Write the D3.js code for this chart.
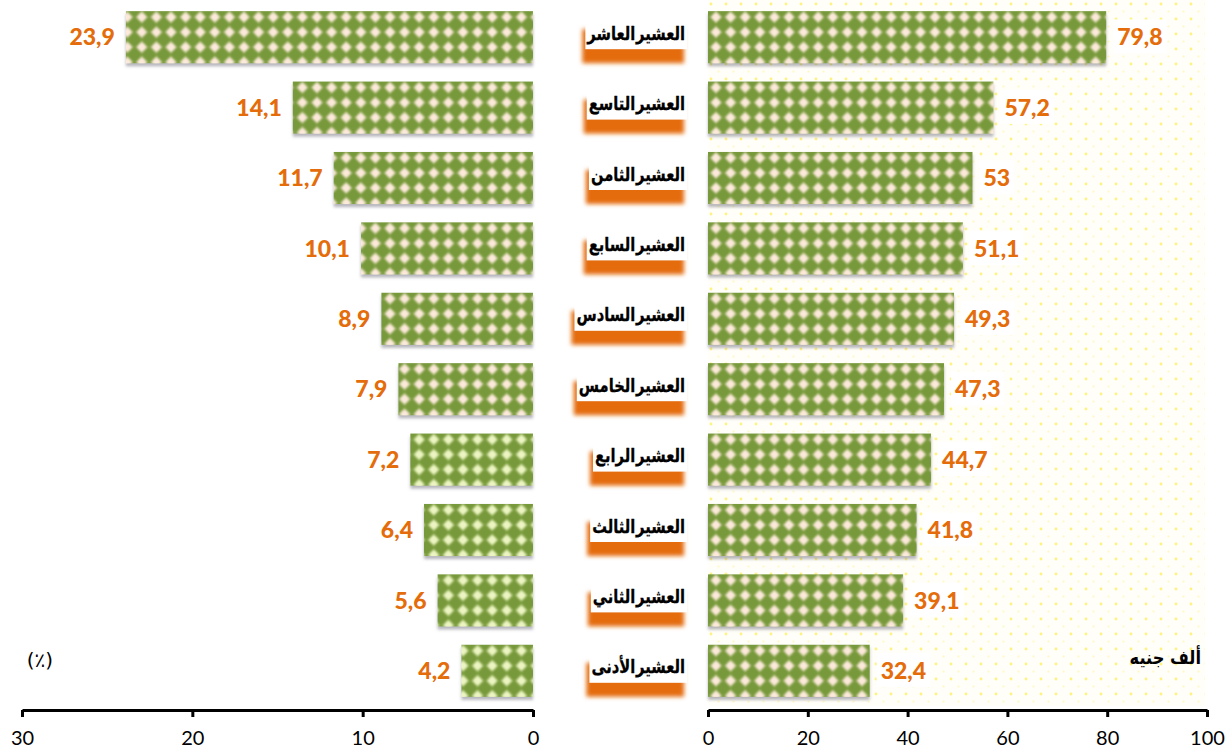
<!DOCTYPE html>
<html><head><meta charset="utf-8">
<script src="https://cdn.jsdelivr.net/npm/d3@7"></script>
<style>
html,body{margin:0;padding:0;background:#fff;}
svg{display:block;}
</style></head>
<body>
<script>
const categories = ["العشير العاشر","العشير التاسع","العشير الثامن","العشير السابع","العشير السادس","العشير الخامس","العشير الرابع","العشير الثالث","العشير الثاني","العشير الأدنى"];
const shareValues = [23.9,14.1,11.7,10.1,8.9,7.9,7.2,6.4,5.6,4.2];
const incomeValues = [79.8,57.2,53,51.1,49.3,47.3,44.7,41.8,39.1,32.4];
const leftTicks = [0,10,20,30];
const rightTicks = [0,20,40,60,80,100];
const leftUnit = "(٪)";
const rightUnit = "ألف جنيه";

const W = 1231, H = 751;
const svg = d3.select("body").append("svg").attr("width", W).attr("height", H);
const defs = svg.append("defs");

const green = "#77993a", cream = "#fce9da", orange = "#e46c0a";
const numFont = "Lato, 'Open Sans', sans-serif";
const arFont = "'DejaVu Sans Condensed', 'DejaVu Sans', sans-serif";

// filters
const sh = defs.append("filter").attr("id","barShadow").attr("x","-5%").attr("y","-20%").attr("width","110%").attr("height","150%");
sh.append("feDropShadow").attr("dx",0).attr("dy",3).attr("stdDeviation",1.6).attr("flood-color","#6a6a7a").attr("flood-opacity",0.5);
const bl = defs.append("filter").attr("id","soft").attr("x","-10%").attr("y","-40%").attr("width","120%").attr("height","180%");
bl.append("feGaussianBlur").attr("stdDeviation",2);
const dotBlur = defs.append("filter").attr("id","dotBlur").attr("x","-30%").attr("y","-30%").attr("width","160%").attr("height","160%");
dotBlur.append("feGaussianBlur").attr("stdDeviation",0.9);

// background dot pattern for the right panel
const bgp = defs.append("pattern").attr("id","bgDots").attr("patternUnits","userSpaceOnUse")
  .attr("width",15).attr("height",15).attr("x",708).attr("y",0);
bgp.append("rect").attr("width",15).attr("height",15).attr("fill","#fffef8");
bgp.append("circle").attr("cx",3).attr("cy",4).attr("r",1.4).attr("fill","#fff380");
bgp.append("circle").attr("cx",10.5).attr("cy",11.5).attr("r",1.1).attr("fill","#fff9c4");

function makeBarPattern(id, x0, y0, dotColor){
  const w = 14.6, h = 15;
  const p = defs.append("pattern").attr("id",id).attr("patternUnits","userSpaceOnUse")
    .attr("width",w).attr("height",h).attr("x",x0).attr("y",y0);
  p.append("rect").attr("width",w).attr("height",h).attr("fill",green);
  const g = p.append("g").attr("filter","url(#dotBlur)");
  const a = 6.4, b = 1.6;
  [[0,0],[w,0],[0,h],[w,h]].forEach(([cx,cy])=>{
    g.append("path").attr("d",`M${cx},${cy-a} Q${cx+b},${cy-b} ${cx+a},${cy} Q${cx+b},${cy+b} ${cx},${cy+a} Q${cx-b},${cy+b} ${cx-a},${cy} Q${cx-b},${cy-b} ${cx},${cy-a}Z`)
      .attr("fill",dotColor);
    g.append("circle").attr("cx",cx).attr("cy",cy).attr("r",4.2).attr("fill",dotColor);
  });
}

// scales
const y = d3.scaleBand().domain(categories).range([2, 706]).paddingInner(0.26).paddingOuter(0.13);
const xL = d3.scaleLinear().domain([0,30]).range([533, 22]);
const xR = d3.scaleLinear().domain([0,100]).range([708, 1207]);
const axisY = 710;

// right panel background
svg.append("rect").attr("x",xR(0)).attr("y",0).attr("width",xR(100)-xR(0)-2).attr("height",axisY-4)
  .attr("fill","url(#bgDots)");

const fmt = v => String(v).replace(".", ",");

// left bars
categories.forEach((c,i)=>{
  const v = shareValues[i];
  const x0 = xL(v), yy = y(c), h = y.bandwidth();
  makeBarPattern("pl"+i, xL(0)+3, yy+6, i>=6 ? "#ecf5c2" : cream);
  svg.append("rect").attr("x",x0).attr("y",yy).attr("width",xL(0)-x0).attr("height",h)
    .attr("fill","url(#pl"+i+")").attr("filter","url(#barShadow)");
  svg.append("text").attr("x",x0-11).attr("y",yy+h/2).attr("dy","0.36em")
    .attr("text-anchor","end").attr("font-family",numFont).attr("font-weight","900")
    .attr("font-size",23).attr("fill",orange).text(fmt(v));
});

// right bars
categories.forEach((c,i)=>{
  const v = incomeValues[i];
  const yy = y(c), h = y.bandwidth();
  makeBarPattern("pr"+i, xR(0)+8, yy+6, cream);
  svg.append("rect").attr("x",xR(0)).attr("y",yy).attr("width",xR(v)-xR(0)).attr("height",h)
    .attr("fill","url(#pr"+i+")").attr("filter","url(#barShadow)");
  const t = svg.append("text").attr("x",xR(v)+11).attr("y",yy+h/2).attr("dy","0.36em")
    .attr("text-anchor","start").attr("font-family",numFont).attr("font-weight","900")
    .attr("font-size",23).attr("fill",orange).text(fmt(v));
  const bb = t.node().getBBox();
  svg.insert("rect", function(){ return t.node(); })
    .attr("x",bb.x-4).attr("y",bb.y-3).attr("width",bb.width+8).attr("height",bb.height+6).attr("fill","#fff");
});

// category labels
const labelRight = 687;
const sx = 0.86;
categories.forEach((c,i)=>{
  const cy = y(c) + y.bandwidth()/2;
  const g = svg.append("g");
  const t = g.append("text")
    .attr("transform",`translate(${labelRight-2},${cy-4}) scale(${sx},1)`)
    .attr("dy","0.35em")
    .attr("text-anchor","end").attr("font-family",arFont).attr("font-weight","bold")
    .attr("font-size",19).attr("word-spacing",-5).attr("fill","#000")
    .attr("stroke","#000").attr("stroke-width",0.3).text(c);
  const w = t.node().getComputedTextLength()*sx;
  const left = labelRight - w - 4;
  g.insert("rect","text").attr("x",left-3).attr("y",cy-8).attr("width",labelRight-left).attr("height",34)
    .attr("fill",orange).attr("filter","url(#soft)");
  g.insert("rect","text").attr("x",left).attr("y",cy-22).attr("width",labelRight-left).attr("height",34)
    .attr("fill","#fff");
});

// axes
const axL = d3.axisBottom(xL).tickValues(leftTicks).tickSize(7).tickSizeOuter(0).tickFormat(d3.format("d"));
const axR = d3.axisBottom(xR).tickValues(rightTicks).tickSize(7).tickSizeOuter(0).tickFormat(d3.format("d"));
[axL, axR].forEach(ax=>{
  const g = svg.append("g").attr("transform",`translate(0,${axisY})`).call(ax);
  g.select(".domain").attr("stroke","#000").attr("stroke-width",3);
  g.selectAll(".tick line").attr("stroke","#000").attr("stroke-width",3);
  g.selectAll(".tick text").attr("font-family",numFont).attr("font-size",20).attr("fill","#000").attr("dy","1.25em");
});

// units
svg.append("text").attr("x",40).attr("y",667).attr("text-anchor","middle")
  .attr("font-family","'DejaVu Sans', sans-serif").attr("font-size",20).attr("fill","#000").text(leftUnit);
svg.append("text").attr("transform","translate(1201,664) scale(0.95,1)").attr("text-anchor","end")
  .attr("font-family",arFont).attr("font-weight","bold").attr("font-size",19).attr("fill","#000").text(rightUnit);
</script>
</body></html>
